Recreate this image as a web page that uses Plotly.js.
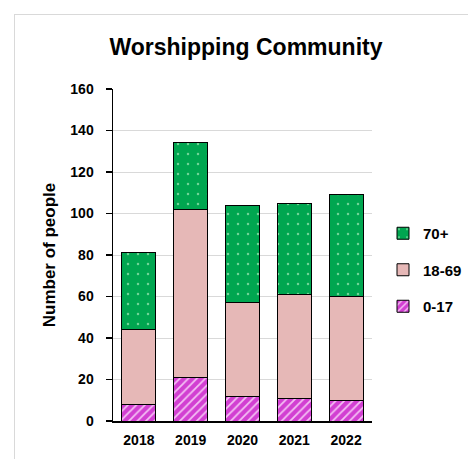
<!DOCTYPE html>
<html>
<head>
<meta charset="utf-8">
<script src="https://cdn.plot.ly/plotly-3.0.1.min.js"></script>
<style>
  html, body { margin: 0; padding: 0; background: #fff; }
  #wrap { position: relative; width: 468px; height: 459px; }
  #chart { width: 468px; height: 459px; }
  #frame { position: absolute; left: 14px; top: 14px; right: 0; bottom: 0;
           border-left: 1px solid #d9d9d9; border-top: 1px solid #d9d9d9; pointer-events: none; }
</style>
</head>
<body>
<div id="wrap"><div id="chart"></div><div id="frame"></div></div>
<script>
const years = ['2018', '2019', '2020', '2021', '2022'];
const age0to17 = [8, 21, 12, 11, 10];
const age18to69 = [36, 81, 45, 50, 50];
const age70plus = [37, 32, 47, 44, 49];
const yTicks = [0, 20, 40, 60, 80, 100, 120, 140, 160];

const FONT = 'Liberation Sans, Arial, sans-serif';
const line = { color: '#000', width: 1 };

const traces = [
  {
    type: 'bar', name: '0-17', x: years, y: age0to17, legendgroup: 'a', legendrank: 3,
    marker: { color: '#d23fd2', line: line,
      pattern: { shape: '/', bgcolor: '#d23fd2', fgcolor: '#f4c0f4', size: 6, solidity: 0.3, fillmode: 'replace' } }
  },
  {
    type: 'bar', name: '18-69', x: years, y: age18to69, legendgroup: 'b', legendrank: 2,
    marker: { color: '#e6b8b7', line: line }
  },
  {
    type: 'bar', name: '70+', x: years, y: age70plus, legendgroup: 'c', legendrank: 1,
    marker: { color: '#00a650', line: line,
      pattern: { shape: '.', bgcolor: '#00a650', fgcolor: '#6fd596', size: 10, solidity: 0.05, fillmode: 'replace' } }
  }
];

const layout = {
  width: 468, height: 459,
  margin: { l: 113, r: 96, t: 89, b: 38, pad: 0, autoexpand: false },
  paper_bgcolor: '#fff', plot_bgcolor: '#fff',
  barmode: 'stack', bargap: 0.34,
  font: { family: FONT, color: '#000', size: 14 },
  title: {
    text: '<b>Worshipping Community</b>',
    font: { family: FONT, size: 23, color: '#000' },
    x: 246 / 468, xanchor: 'center', xref: 'container',
    y: 1 - 47 / 459, yanchor: 'middle', yref: 'container'
  },
  xaxis: {
    type: 'category',
    showline: true, linecolor: '#000', linewidth: 1.5,
    ticks: '', showgrid: false, zeroline: false,
    tickfont: { family: FONT, size: 14, color: '#000', weight: 'bold' },
    ticklabelstandoff: 6
  },
  yaxis: {
    range: [0, 160], tickvals: yTicks, ticktext: yTicks.map(String),
    showline: true, linecolor: '#000', linewidth: 1.5,
    ticks: 'outside', ticklen: 6, tickcolor: '#000', tickwidth: 1.5,
    showgrid: true, gridcolor: '#d9d9d9', gridwidth: 1, zeroline: false,
    tickfont: { family: FONT, size: 14, color: '#000', weight: 'bold' },
    ticklabelstandoff: 9,
    title: { text: '<b>Number of people</b>', font: { family: FONT, size: 17, color: '#000' }, standoff: 10 }
  },
  showlegend: true,
  legend: {
    xref: 'container', yref: 'container',
    x: 383 / 468, xanchor: 'left', y: 1 - 270 / 459, yanchor: 'middle',
    traceorder: 'grouped', tracegroupgap: 14,
    font: { family: FONT, size: 15, color: '#000', weight: 'bold' },
    itemwidth: 30, bgcolor: 'rgba(0,0,0,0)'
  }
};

Plotly.newPlot('chart', traces, layout, { displayModeBar: false, staticPlot: true });
</script>
</body>
</html>
